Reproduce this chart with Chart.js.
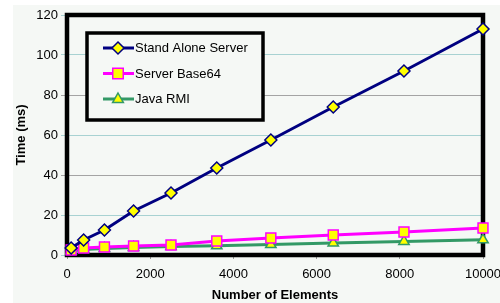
<!DOCTYPE html>
<html>
<head>
<meta charset="utf-8">
<script src="https://cdn.jsdelivr.net/npm/chart.js@4.4.1/dist/chart.umd.min.js"></script>
<style>
html,body{margin:0;padding:0;background:#ffffff;}
#wrap{width:500px;height:303px;}
</style>
</head>
<body>
<div id="wrap"><canvas id="c" width="500" height="303"></canvas></div>
<script>
const elements = [100, 400, 900, 1600, 2500, 3600, 4900, 6400, 8100, 10000];
const standAlone = [3.5, 7.5, 12.5, 22, 31, 43.5, 57.5, 74, 92, 113];
const base64 = [2.5, 3.5, 4, 4.5, 5, 7, 8.5, 10, 11.5, 13.5];
const javaRmi = [2, 2.8, 3.2, 3.8, 4.2, 4.6, 5.2, 6, 6.8, 7.6];
const seriesNames = ['Stand Alone Server', 'Server Base64', 'Java RMI'];

const FONT = 'Liberation Sans, Arial, sans-serif';
const BG = '#f5f8f5';

function pts(ys){ return elements.map((x,i)=>({x:x, y:ys[i]})); }

const bgPlugin = {
  id:'bg',
  beforeDraw(chart){
    const ctx = chart.ctx;
    ctx.save();
    ctx.fillStyle = '#ffffff';
    ctx.fillRect(0,0,chart.width,chart.height);
    ctx.fillStyle = BG;
    ctx.fillRect(13,5,chart.width-13,chart.height-5);
    ctx.restore();
  },
  beforeDatasetsDraw(chart){
    const ctx = chart.ctx, a = chart.chartArea;
    ctx.save();
    ctx.strokeStyle = '#000';
    ctx.lineWidth = 4.5;
    ctx.strokeRect(a.left, a.top, a.right-a.left, a.bottom-a.top);
    ctx.restore();
  }
};

const legendPlugin = {
  id:'boxLegend',
  afterDatasetsDraw(chart){
    const ctx = chart.ctx;
    ctx.save();
    const bx = 87, by = 33, bw = 176, bh = 87;
    ctx.fillStyle = BG;
    ctx.fillRect(bx,by,bw,bh);
    ctx.strokeStyle = '#000';
    ctx.lineWidth = 3.5;
    ctx.strokeRect(bx,by,bw,bh);
    chart.data.datasets.forEach((ds,i)=>{
      const y = 48 + i*25.5;
      ctx.strokeStyle = ds.borderColor;
      ctx.lineWidth = 3;
      ctx.beginPath(); ctx.moveTo(103,y); ctx.lineTo(134,y); ctx.stroke();
      ctx.fillStyle = ds.pointBackgroundColor;
      ctx.strokeStyle = ds.pointBorderColor;
      ctx.lineWidth = ds.pointBorderWidth;
      const cx = 118, r = ds.pointRadius;
      ctx.beginPath();
      if (ds.pointStyle === 'rectRot') {
        ctx.moveTo(cx, y-r); ctx.lineTo(cx+r, y); ctx.lineTo(cx, y+r); ctx.lineTo(cx-r, y); ctx.closePath();
      } else if (ds.pointStyle === 'rect') {
        const h = r*0.75;
        ctx.rect(cx-h, y-h, 2*h, 2*h);
      } else {
        ctx.moveTo(cx, y-r); ctx.lineTo(cx+r*0.9, y+r*0.6); ctx.lineTo(cx-r*0.9, y+r*0.6); ctx.closePath();
      }
      ctx.fill(); ctx.stroke();
      ctx.fillStyle = '#000';
      ctx.font = '13px ' + FONT;
      ctx.textBaseline = 'middle';
      ctx.textAlign = 'left';
      ctx.fillText(ds.label, 135, y+0.5);
    });
    ctx.restore();
  }
};

new Chart(document.getElementById('c'), {
  type:'line',
  data:{
    datasets:[
      {label:seriesNames[0], data:pts(standAlone), borderColor:'#000080', borderWidth:3,
       pointStyle:'rectRot', pointRadius:6, pointBackgroundColor:'#ffff00', pointBorderColor:'#000080', pointBorderWidth:1.5, clip:false},
      {label:seriesNames[1], data:pts(base64), borderColor:'#ff00ff', borderWidth:3,
       pointStyle:'rect', pointRadius:7, pointBackgroundColor:'#ffff00', pointBorderColor:'#ff00ff', pointBorderWidth:1.5, clip:false},
      {label:seriesNames[2], data:pts(javaRmi), borderColor:'#339966', borderWidth:3,
       pointStyle:'triangle', pointRadius:6, pointBackgroundColor:'#ffff00', pointBorderColor:'#339966', pointBorderWidth:1.5, clip:false}
    ]
  },
  options:{
    responsive:false,
    animation:false,
    events:[],
    layout:{padding:{top:15,right:17,left:0,bottom:0}},
    plugins:{legend:{display:false},tooltip:{enabled:false}},
    scales:{
      x:{
        type:'linear', min:0, max:10000,
        border:{display:false},
        grid:{drawOnChartArea:false, drawTicks:true, tickLength:4, color:'#999'},
        ticks:{stepSize:2000, padding:8, color:'#000', font:{family:FONT,size:13}, maxRotation:0, autoSkip:false,
          callback:(v)=>String(v)},
        title:{display:true, text:'Number of Elements', color:'#000', font:{family:FONT,size:13,weight:'bold'}, padding:{top:0,bottom:0}},
        afterFit(s){ s.height = 48; s.paddingLeft = 0; s.paddingRight = 0; }
      },
      y:{
        min:0, max:120,
        border:{display:false},
        grid:{tickLength:6, lineWidth:1,
          color:(c)=>{ const v = c.tick ? c.tick.value : 0; return (v===80||v===40) ? '#a4a4a4' : '#a8d2d2'; }},
        ticks:{stepSize:20, padding:3, color:'#000', font:{family:FONT,size:13}, callback:(v)=>String(v)},
        title:{display:true, text:'Time (ms)', color:'#000', font:{family:FONT,size:13,weight:'bold'}, padding:{top:14,bottom:0}},
        afterFit(s){ s.width = 67; s.paddingTop = 0; s.paddingBottom = 0; }
      }
    }
  },
  plugins:[bgPlugin, legendPlugin]
});
</script>
</body>
</html>
